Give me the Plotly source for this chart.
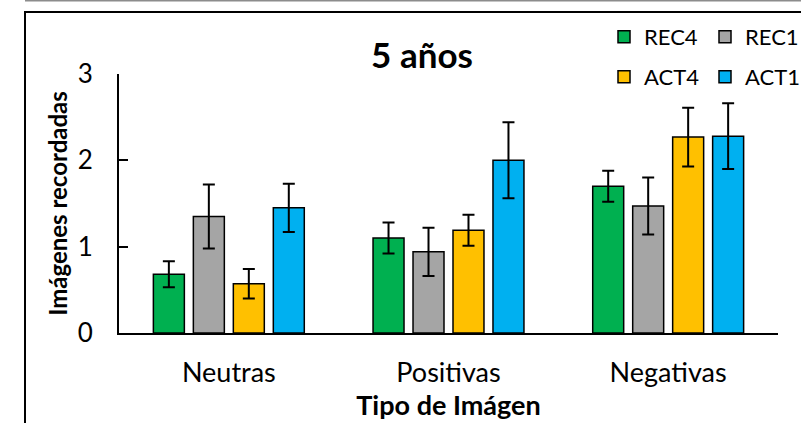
import plotly.graph_objects as go

categories = ["Neutras", "Positivas", "Negativas"]
series_names = ["REC4", "REC1", "ACT4", "ACT1"]
rec4 = [0.68, 1.10, 1.70]
rec4_err = [0.15, 0.18, 0.18]
rec1 = [1.35, 0.94, 1.47]
rec1_err = [0.37, 0.28, 0.33]
act4 = [0.57, 1.19, 2.27]
act4_err = [0.17, 0.18, 0.34]
act1 = [1.45, 2.00, 2.28]
act1_err = [0.28, 0.44, 0.38]
y_ticks = [0, 1, 2, 3]

colors = ["#00B050", "#A5A5A5", "#FFC000", "#00B0F0"]
values = [rec4, rec1, act4, act1]
errors = [rec4_err, rec1_err, act4_err, act1_err]
legend_ids = ["legend", "legend", "legend2", "legend2"]

FONT = "Lato"
W, H = 801, 423
ML, MR, MT, MB = 119, 23, 74, 89.5

fig = go.Figure()
for name, vals, errs, col, lg in zip(series_names, values, errors, colors, legend_ids):
    fig.add_trace(go.Bar(
        name=name, x=categories, y=vals,
        marker=dict(color=col, line=dict(color="black", width=1.5)),
        error_y=dict(type="data", array=errs, visible=True, color="black",
                     thickness=2, width=6),
        legend=lg,
    ))

pw = W - ML - MR
ph = H - MT - MB
def px_x(p):
    return (p - ML) / pw
def px_y(p):
    return (H - MB - p) / ph

legend_common = dict(
    orientation="h", xanchor="left", yanchor="middle",
    font=dict(family=FONT, size=22, color="black"),
    bgcolor="rgba(0,0,0,0)", borderwidth=0,
    entrywidth=56, entrywidthmode="pixels",
    itemwidth=30, tracegroupgap=0,
)

fig.update_layout(
    template="none",
    width=W, height=H,
    margin=dict(l=ML, r=MR, t=MT, b=MB, pad=0, autoexpand=False),
    paper_bgcolor="white", plot_bgcolor="white",
    barmode="group", bargap=0.272, bargroupgap=0.225,
    font=dict(family=FONT, color="black"),
    title=dict(text="<b>5 años</b>", x=422 / W, xref="container", xanchor="center",
               y=1 - 56 / H, yref="container", yanchor="middle",
               font=dict(family=FONT, size=35, color="black")),
    xaxis=dict(
        showline=True, linecolor="black", linewidth=2, ticks="",
        tickfont=dict(family=FONT, size=27, color="black"),
        ticklabelstandoff=15, automargin=False,
        title=dict(text="<b>Tipo de Imágen</b>", font=dict(family=FONT, size=27, color="black"), standoff=8),
        showgrid=False, zeroline=False,
    ),
    yaxis=dict(
        range=[0, 3], tickvals=y_ticks, showline=True, linecolor="black", linewidth=2,
        ticks="inside", ticklen=9, tickwidth=2, tickcolor="black",
        tickfont=dict(family=FONT, size=26, color="black"),
        ticklabelstandoff=19, automargin=False,
        title=dict(text="<b>Imágenes recordadas</b>", font=dict(family=FONT, size=24, color="black"), standoff=3),
        showgrid=False, zeroline=False,
    ),
    legend=dict(x=px_x(604), y=px_y(37), **legend_common),
    legend2=dict(x=px_x(604), y=px_y(77), **legend_common),
    showlegend=True,
)

# outer frame (cropped chart-area border) and top gray line
fig.add_shape(type="rect", xref="paper", yref="paper",
              x0=px_x(25), x1=px_x(W + 20), y0=px_y(H + 20), y1=px_y(12),
              line=dict(color="black", width=2), fillcolor="rgba(0,0,0,0)", layer="below")
fig.add_shape(type="line", xref="paper", yref="paper",
              x0=px_x(25), x1=px_x(W + 5), y0=px_y(0.5), y1=px_y(0.5),
              line=dict(color="#8c8c8c", width=1.5))

fig.write_html("out.html", config={"displayModeBar": False},
               post_script="document.body.style.margin='0';document.body.style.overflow='hidden';")
